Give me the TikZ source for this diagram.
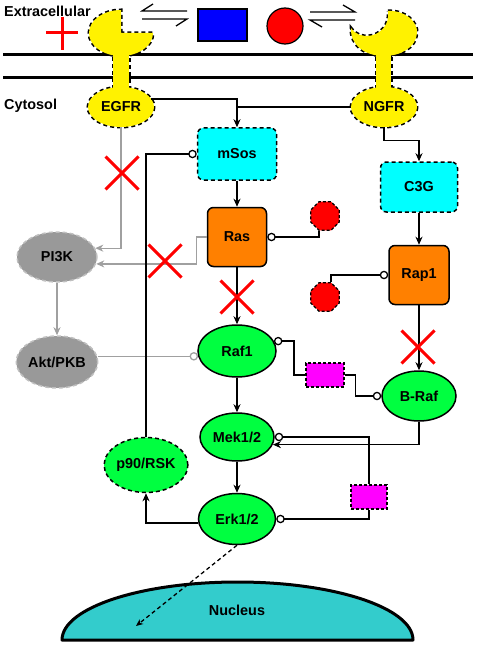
\documentclass[tikz,border=0pt]{standalone}
\usepackage{fontspec}
\setmainfont{Liberation Sans}
\usetikzlibrary{shapes.geometric, arrows.meta}
\definecolor{protgreen}{RGB}{0,255,64}
\definecolor{gefcyan}{RGB}{0,255,255}
\definecolor{gtporange}{RGB}{255,128,0}
\definecolor{nucleuscol}{RGB}{51,204,204}
\definecolor{pathgray}{RGB}{153,153,153}
\definecolor{linegray}{RGB}{160,160,160}
\definecolor{pinkcol}{RGB}{255,0,255}
\begin{document}
\begin{tikzpicture}[x=1pt, y=-1pt,
    every node/.style={font=\bfseries\fontsize{14.4}{16}\selectfont, inner sep=0pt},
    prot/.style={ellipse, draw, line width=1.5pt, fill=protgreen},
    dprot/.style={prot, dash pattern=on 4pt off 3pt},
    gef/.style={rectangle, rounded corners=6pt, draw, line width=1.5pt, dash pattern=on 4pt off 3pt, fill=gefcyan},
    gtp/.style={rectangle, rounded corners=6pt, draw, line width=1.5pt, fill=gtporange},
    grayprot/.style={ellipse, draw=black!25, line width=1.5pt, dash pattern=on 4pt off 3pt, fill=pathgray},
    pinkbox/.style={rectangle, draw, line width=1.3pt, dash pattern=on 3pt off 2pt, fill=pinkcol},
    octo/.style={regular polygon, regular polygon sides=8, minimum size=31pt, draw, line width=1.3pt, dash pattern=on 3pt off 2pt, fill=red},
    recline/.style={draw, line width=3pt, dash pattern=on 4pt off 3pt},
    conn/.style={line width=1.3pt},
    arr/.style={conn, -{Stealth[length=8pt, width=7pt, inset=2.5pt]}},
    inh/.style={conn, -{Circle[open, length=8.5pt, width=8.5pt]}},
    rinh/.style={conn, {Circle[open, length=8.5pt, width=8.5pt]}-},
    garr/.style={arr, linegray},
    ginh/.style={inh, linegray},
    xmark/.style={red, line width=3pt}]
  \useasboundingbox (0,0) rectangle (477,650);

  % Membrana
  \draw[line width=3pt] (3,55) -- (473,55);
  \draw[line width=3pt] (3,78) -- (473,78);
  \node[anchor=west] (extra) at (4,11) {Extracellular};
  \node[anchor=west] (cyto) at (4,106) {Cytosol};

  % Ligandi
  \draw[red, line width=3pt] (46,33) -- (78,33) (62,17) -- (62,50);
  \draw[conn] (153,4) -- (142,11) -- (187,11);
  \draw[conn] (142,19) -- (187,19) -- (176,26);
  \node[rectangle, draw, line width=1.2pt, fill=blue, minimum width=49pt, minimum height=32pt] (lig1) at (222.5,25) {};
  \node[circle, draw, line width=1.2pt, fill=red, minimum size=36pt] (lig2) at (285,26) {};
  \draw[conn] (310,12) -- (355,12) -- (343,5);
  \draw[conn] (322,27) -- (310,20) -- (355,20);

  % Recettori: contorno
  \draw[recline] (121,33) -- (121,10) arc[start angle=270, end angle=0, x radius=32, y radius=23] -- cycle;
  \draw[recline] (113,50) rectangle (129,90);
  \draw[recline] (121,107) ellipse[x radius=33, y radius=20];
  \draw[recline] (388,11) .. controls (405,10) and (418,22) .. (417,33)
    .. controls (416,48) and (400,56) .. (384,56) .. controls (365,56) and (350,45) .. (351,28)
    .. controls (356,35) and (362,36) .. (368,36) .. controls (380,35) and (390,25) .. (388,11) -- cycle;
  \draw[recline] (376,50) rectangle (391,90);
  \draw[recline] (384,107) ellipse[x radius=33, y radius=20];
  % Recettori: riempimento
  \fill[yellow] (121,33) -- (121,10) arc[start angle=270, end angle=0, x radius=32, y radius=23] -- cycle;
  \fill[yellow] (113,50) rectangle (129,90);
  \fill[yellow] (121,107) ellipse[x radius=33, y radius=20];
  \fill[yellow] (388,11) .. controls (405,10) and (418,22) .. (417,33)
    .. controls (416,48) and (400,56) .. (384,56) .. controls (365,56) and (350,45) .. (351,28)
    .. controls (356,35) and (362,36) .. (368,36) .. controls (380,35) and (390,25) .. (388,11) -- cycle;
  \fill[yellow] (376,50) rectangle (391,90);
  \fill[yellow] (384,107) ellipse[x radius=33, y radius=20];
  \node[ellipse, minimum width=66pt, minimum height=40pt] (EGFR) at (121,107) {EGFR};
  \node[ellipse, minimum width=66pt, minimum height=40pt] (NGFR) at (384,107) {NGFR};

  % Nucleo
  \draw[line width=3pt, line join=round, fill=nucleuscol] (62,640) arc[start angle=180, end angle=360, x radius=175.5, y radius=58] -- cycle;
  \node (nucleus) at (237,610) {Nucleus};
  \coordinate (nuctarget) at (136,626);

  % Proteine
  \node[gef, minimum width=79pt, minimum height=52pt] (mSos) at (237,154) {mSos};
  \node[gtp, minimum width=59pt, minimum height=59pt] (Ras) at (237,237) {Ras};
  \node[gef, minimum width=77pt, minimum height=50pt] (C3G) at (419,187) {C3G};
  \node[gtp, minimum width=60pt, minimum height=59pt] (Rap1) at (419,275) {Rap1};
  \node[grayprot, minimum width=80pt, minimum height=50pt] (PI3K) at (57,257) {PI3K};
  \node[grayprot, minimum width=80pt, minimum height=52pt] (Akt) at (57,362) {Akt/PKB};
  \node[prot, minimum width=78pt, minimum height=52pt] (Raf1) at (237,351) {Raf1};
  \node[prot, minimum width=74pt, minimum height=48pt] (Mek) at (237,437) {Mek1/2};
  \node[prot, minimum width=77pt, minimum height=51pt] (Erk) at (237,519) {Erk1/2};
  \node[dprot, minimum width=81pt, minimum height=55pt] (p90) at (146,465) {p90/RSK};
  \node[prot, minimum width=74pt, minimum height=50pt] (BRaf) at (419,396) {B-Raf};
  \node[pinkbox, minimum width=38pt, minimum height=24pt] (pink1) at (325,375) {};
  \node[pinkbox, minimum width=36pt, minimum height=24pt] (pink2) at (369,497) {};
  \node[octo] (oct1) at (325,216) {};
  \node[octo] (oct2) at (325,297) {};

  % Collegamenti grigi
  \draw[garr] (EGFR.south) |- (PI3K.13);
  \draw[garr] (Ras.west) -- ++(-10,0) |- (PI3K.-10);
  \draw[garr] (PI3K) -- (Akt);
  \draw[ginh] (Akt.8) -- (Akt.8 -| Raf1.188);

  % Collegamenti
  \draw[arr] (EGFR.15) -| (mSos.north);
  \draw[conn] (NGFR.west) -- (NGFR.west -| mSos.north);
  \draw[arr] (NGFR.south) -- ++(0,13) -| (C3G.north);
  \draw[arr] (mSos) -- (Ras);
  \draw[arr] (C3G) -- (Rap1);
  \draw[arr] (Ras) -- (Raf1);
  \draw[arr] (Rap1) -- (BRaf);
  \draw[arr] (Raf1) -- (Mek);
  \draw[arr] (Mek) -- (Erk);
  \draw[inh] ([xshift=-6pt]oct1.south) |- (Ras.east);
  \draw[inh] ([xshift=6pt]oct2.north) |- (Rap1.west);
  \draw[inh] (p90.north) |- (mSos.west);
  \draw[rinh] (Raf1.15) -- ++(20,0) |- (pink1.west);
  \draw[inh] (pink1.east) -- ++(11,0) |- (BRaf.west);
  \draw[rinh] (Erk.east) -| (pink2.south);
  \draw[inh] (pink2.north) |- (Mek.east);
  \draw[arr] (BRaf.south) |- (Mek.-12);
  \draw[arr] (Erk.186) -| (p90.south);
  \draw[conn, dash pattern=on 4pt off 3pt, -{Stealth[length=7pt, width=6pt, inset=2pt]}] (Erk.south) -- (nuctarget);

  % Blocchi
  \foreach \c in {(122,173),(165,261),(237,297),(418,347)}
    \draw[xmark] \c +(-16.5,-16.5) -- +(16.5,16.5) \c +(-16.5,16.5) -- +(16.5,-16.5);
\end{tikzpicture}
\end{document}
